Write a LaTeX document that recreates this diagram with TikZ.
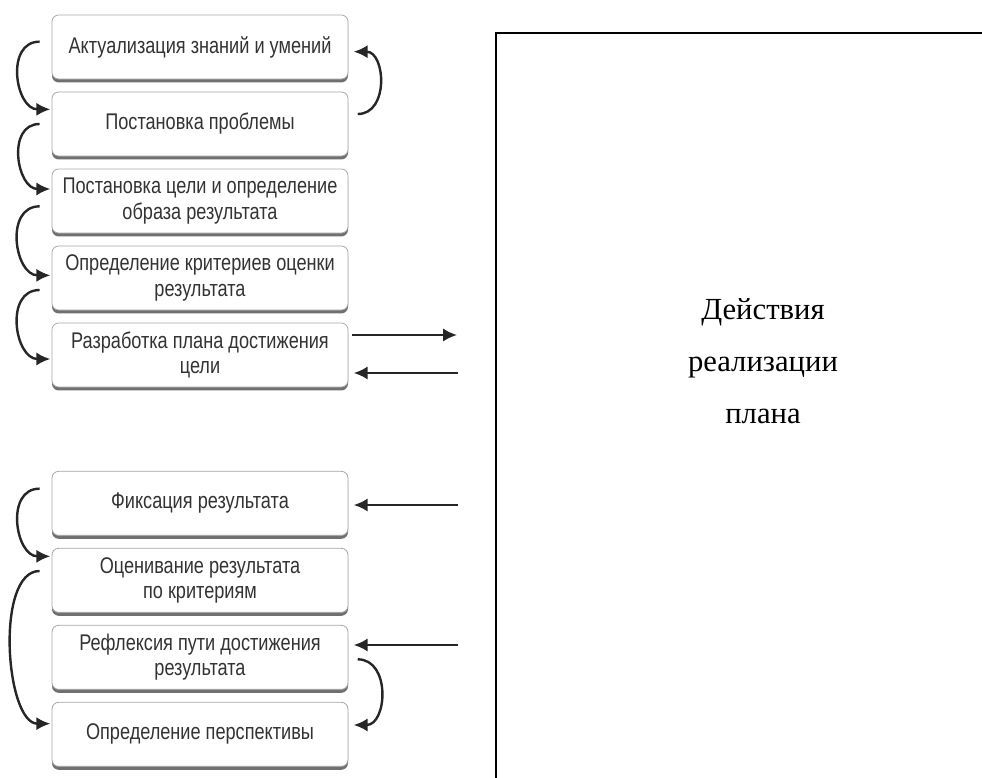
\documentclass[tikz,border=0pt]{standalone}
\usepackage{fontspec}
\setmainfont{Liberation Serif}
\newfontfamily\narrowsans[FakeStretch=0.8]{Liberation Sans}
\usetikzlibrary{shadows,arrows.meta}

\tikzset{
  stage/.style={draw=gray!70, line width=0.6pt, fill=white, rounded corners=5pt,
    minimum width=222pt, minimum height=48pt, inner sep=1pt, align=center,
    font=\narrowsans\fontsize{17}{19}\selectfont, text=black!80,
    drop shadow={shadow xshift=0pt, shadow yshift=-2.6pt, opacity=0.8, fill=black!70}},
  link/.style={-{Latex[length=10.5pt,width=10pt]}, line width=1.8pt, black!85},
}

\begin{document}
\begin{tikzpicture}[x=0.75pt,y=-0.75pt, node distance=57.75pt]
  \useasboundingbox (0,0) rectangle (982,778);

  % frame of the main block
  \draw[line width=1.4pt] (496,778) -- (496,33) -- (982,33);
  \node[font=\fontsize{23}{39}\selectfont, align=center] (act) at (763,361)
    {Действия\\реализации\\плана};

  % stages
  \node[stage] (1) at (200,47) {Актуализация знаний и умений};
  \node[stage] (2) [below of=1] {Постановка проблемы};
  \node[stage] (3) [below of=2] {Постановка цели и определение\\образа результата};
  \node[stage] (4) [below of=3] {Определение критериев оценки\\результата};
  \node[stage] (5) [below of=4] {Разработка плана достижения\\цели};
  \node[stage] (6) [below of=5, yshift=-53.5pt] {Фиксация результата};
  \node[stage] (7) [below of=6] {Оценивание результата\\по критериям};
  \node[stage] (8) [below of=7] {Рефлексия пути достижения\\результата};
  \node[stage] (9) [below of=8] {Определение перспективы};

  % free ends toward the main block
  \coordinate (o5) at (457,335);
  \coordinate (i5) at (458,373);
  \coordinate (i6) at (458,505);
  \coordinate (i8) at (458,645);

  \draw[link] ([xshift=-9pt,yshift=4pt]1.west) to[out=180,in=180,looseness=1.3] ([xshift=-1pt,yshift=11pt]2.west);
  \draw[link] ([xshift=-9pt,yshift=0pt]2.west) to[out=180,in=180,looseness=1.3] ([xshift=-1pt,yshift=9pt]3.west);
  \draw[link] ([xshift=-9pt,yshift=-4pt]3.west) to[out=180,in=180,looseness=1.3] ([xshift=-1pt,yshift=2pt]4.west);
  \draw[link] ([xshift=-9pt,yshift=-9pt]4.west) to[out=180,in=180,looseness=1.3] ([xshift=-1pt,yshift=-3pt]5.west);
  \draw[link] ([xshift=7pt,yshift=7.5pt]2.east) to[out=0,in=0,looseness=1.3] ([xshift=4pt,yshift=-3.5pt]1.east);
  \draw[link] ([xshift=3pt]5.east |- o5) -- (o5);
  \draw[link] (i5) -- ([xshift=4pt]5.east |- i5);

  \draw[link] (i6) -- ([xshift=4pt]6.east |- i6);
  \draw[link] ([xshift=-9pt,yshift=11pt]6.west) to[out=180,in=180,looseness=1.3] ([xshift=-1pt,yshift=18pt]7.west);
  \draw[link] ([xshift=-9pt,yshift=7pt]7.west) to[out=180,in=180,looseness=0.75] ([xshift=-1pt,yshift=8pt]9.west);
  \draw[link] (i8) -- ([xshift=4pt]8.east |- i8);
  \draw[link] ([xshift=7pt,yshift=-1.5pt]8.east) to[out=0,in=0,looseness=1.3] ([xshift=4pt,yshift=7pt]9.east);
\end{tikzpicture}
\end{document}
